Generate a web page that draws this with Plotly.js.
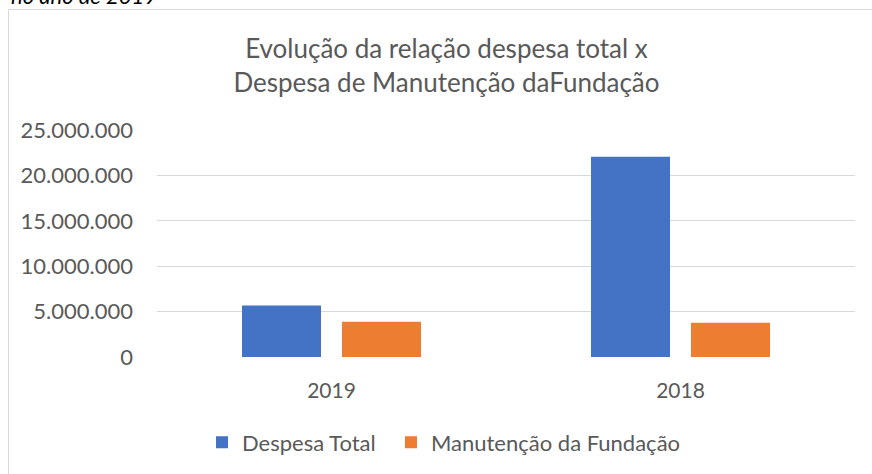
<!DOCTYPE html>
<html>
<head>
<meta charset="utf-8">
<script src="https://cdn.plot.ly/plotly-3.0.1.min.js"></script>
<style>
  html, body { margin: 0; padding: 0; width: 872px; height: 474px; overflow: hidden; background: #fff; }
  #cap { position: absolute; left: 11px; top: -18px; font-family: Lato, sans-serif; font-style: italic; font-size: 22px; color: #000; white-space: nowrap; }
  #frame { position: absolute; left: 8px; top: 9px; width: 900px; height: 500px; border: 1px solid #d9d9d9; }
  #chart { position: absolute; left: 0; top: 0; width: 872px; height: 474px; }
</style>
</head>
<body>
<div id="cap">no ano de 2019</div>
<div id="frame"></div>
<div id="chart"></div>
<script>
const categories = ['2019', '2018'];
const despesaTotal = [5670000, 22050000];
const manutencao = [3890000, 3780000];
const seriesNames = ['Despesa Total', 'Manutenção da Fundação'];
const tickVals = [0, 5000000, 10000000, 15000000, 20000000, 25000000];
const tickText = ['0', '5.000.000', '10.000.000', '15.000.000', '20.000.000', '25.000.000'];

const textColor = '#595959';
const fontFam = 'Lato, "Open Sans", sans-serif';

const traces = [
  { type: 'bar', name: seriesNames[0], x: categories, y: despesaTotal, marker: { color: '#4472C4' }, hoverinfo: 'none', legend: 'legend' },
  { type: 'bar', name: seriesNames[1], x: categories, y: manutencao, marker: { color: '#ED7D31' }, hoverinfo: 'none', legend: 'legend2' }
];

const legendBase = { orientation: 'h', xanchor: 'left', y: -0.37, yanchor: 'middle', font: { size: 22, color: textColor }, bgcolor: 'rgba(0,0,0,0)' };

const layout = {
  width: 872, height: 474,
  paper_bgcolor: 'rgba(0,0,0,0)', plot_bgcolor: 'rgba(0,0,0,0)',
  margin: { l: 157, r: 17, t: 130, b: 116 },
  font: { family: fontFam, color: textColor, size: 22 },
  title: {
    text: 'Evolução da relação despesa total x<br>Despesa de Manutenção daFundação',
    font: { family: fontFam, size: 26, color: textColor },
    xref: 'container', yref: 'container', x: 0.512, y: 0.878, xanchor: 'center', yanchor: 'middle'
  },
  barmode: 'group', bargap: 0.427, bargroupgap: 0.21,
  xaxis: { type: 'category', showgrid: false, zeroline: false, showline: false, ticks: '', tickfont: { size: 21, color: textColor }, ticklabelstandoff: 19 },
  yaxis: { range: [0, 25000000], tickvals: tickVals, ticktext: tickText, showgrid: true, gridcolor: '#d9d9d9', gridwidth: 1, zeroline: false, showline: false, ticks: '', tickfont: { size: 22, color: textColor }, ticklabelstandoff: 23 },
  showlegend: true,
  legend: Object.assign({}, legendBase, { x: 0.0645 }),
  legend2: Object.assign({}, legendBase, { x: 0.3352 })
};

Plotly.newPlot('chart', traces, layout, { displayModeBar: false, staticPlot: true });
</script>
</body>
</html>
